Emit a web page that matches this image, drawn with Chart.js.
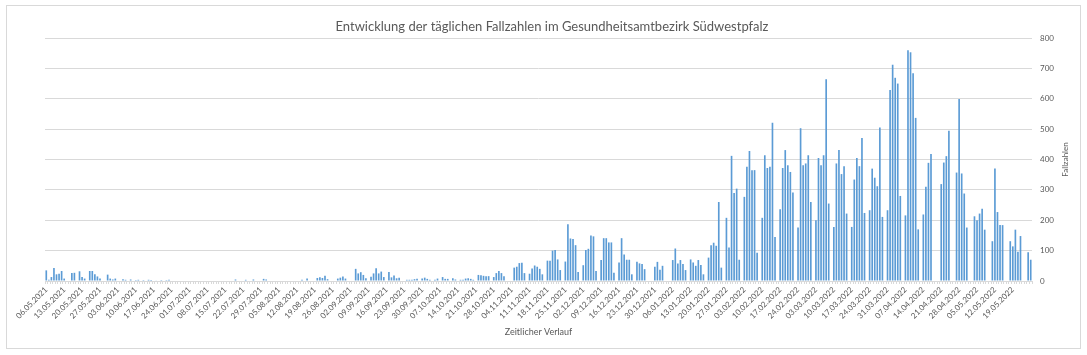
<!DOCTYPE html>
<html>
<head>
<meta charset="utf-8">
<script src="https://cdn.jsdelivr.net/npm/chart.js@4/dist/chart.umd.min.js"></script>
<style>
  html, body { margin: 0; padding: 0; background: #ffffff; }
  #wrap { position: relative; width: 1087px; height: 355px; }
  #c { position: absolute; left: 0; top: 0; }
  #frame { position: absolute; left: 6px; top: 5px; width: 1073px; height: 342px; border: 1px solid #D9D9D9; pointer-events: none; }
</style>
</head>
<body>
<div id="wrap">
  <canvas id="c" width="1087" height="355"></canvas>
  <div id="frame"></div>
</div>
<script>
const chartTitle = 'Entwicklung der täglichen Fallzahlen im Gesundheitsamtbezirk Südwestpfalz';
const xAxisTitle = 'Zeitlicher Verlauf';
const yAxisTitle = 'Fallzahlen';
const startDate = '2021-05-06';
const dayCount = 386;

const tickLabels = [
  '06.05.2021','13.05.2021','20.05.2021','27.05.2021','03.06.2021','10.06.2021','17.06.2021','24.06.2021',
  '01.07.2021','08.07.2021','15.07.2021','22.07.2021','29.07.2021','05.08.2021','12.08.2021','19.08.2021',
  '26.08.2021','02.09.2021','09.09.2021','16.09.2021','23.09.2021','30.09.2021','07.10.2021','14.10.2021',
  '21.10.2021','28.10.2021','04.11.2021','11.11.2021','18.11.2021','25.11.2021','02.12.2021','09.12.2021',
  '16.12.2021','23.12.2021','30.12.2021','06.01.2022','13.01.2022','20.01.2022','27.01.2022','03.02.2022',
  '10.02.2022','17.02.2022','24.02.2022','03.03.2022','10.03.2022','17.03.2022','24.03.2022','31.03.2022',
  '07.04.2022','14.04.2022','21.04.2022','28.04.2022','05.05.2022','12.05.2022','19.05.2022'
];

// daily case numbers (one row per week)
const cases2021 = [
  35,4,13,43,22,24,33,
  8,0,0,26,27,0,32,
  13,8,0,33,33,22,15,
  8,0,0,21,8,5,8,
  0,0,6,4,0,5,0,
  3,4,0,3,0,4,3,
  0,2,0,3,0,3,4,
  0,0,0,0,0,0,0,
  0,0,0,0,0,0,0,
  0,0,0,0,0,0,0,
  0,0,0,0,5,0,0,
  0,4,0,0,5,0,0,
  0,7,5,0,0,0,0,
  0,0,0,0,0,0,0,
  0,0,4,0,8,0,0,
  0,10,12,10,17,6,0,
  0,0,8,11,15,8,0,
  0,0,40,25,29,20,9,
  0,14,25,42,25,31,13,
  0,30,12,18,9,11,0,
  0,4,4,4,6,7,0,
  8,11,7,4,0,4,8,
  0,13,7,7,0,9,5,
  0,4,4,8,9,7,4,
  0,20,19,17,16,16,0,
  13,26,33,26,16,0,0,
  0,44,47,59,60,26,0,
  24,41,51,47,40,22,0,
  67,67,100,102,71,36,0,
  64,187,140,138,118,30,0,
  52,102,106,150,147,33,0,
  69,141,141,127,127,27,0,
  61,141,87,70,70,22,0,
  63,58,56,39,0,0,0
];
const cases2022 = [
  47,63,37,50,0,0,0,
  69,107,58,69,56,36,0,
  71,61,50,69,53,22,0,
  77,118,126,116,260,44,0,
  208,110,412,290,304,70,0,
  277,376,428,365,365,93,0,
  208,414,372,376,521,145,0,
  236,372,431,381,359,291,0,
  176,503,381,387,414,260,0,
  200,405,381,414,664,255,0,
  178,387,431,352,378,222,0,
  178,334,405,378,471,224,0,
  233,370,340,312,505,211,0,
  233,629,712,669,650,280,0,
  216,760,753,684,537,170,0,
  219,310,389,418,0,0,0,
  319,390,411,495,0,0,357,
  599,354,288,176,0,0,213,
  200,222,238,169,0,0,131,
  370,227,184,184,0,0,131,
  114,169,96,148,0,0,95,
  70
];
const dailyCases = cases2021.concat(cases2022);

const yTicks = { min: 0, max: 800, step: 100 };

// daily category labels
const categories = [];
{
  const d0 = new Date(startDate + 'T00:00:00Z');
  for (let i = 0; i < dayCount; i++) {
    const d = new Date(d0.getTime() + i * 86400000);
    const dd = String(d.getUTCDate()).padStart(2, '0');
    const mm = String(d.getUTCMonth() + 1).padStart(2, '0');
    categories.push(dd + '.' + mm + '.' + d.getUTCFullYear());
  }
}

const FONT = 'Lato, "Liberation Sans", sans-serif';
const TEXT = '#595959';

const titlesPlugin = {
  id: 'titles',
  afterDraw(chart) {
    const ctx = chart.ctx;
    ctx.save();
    ctx.fillStyle = TEXT;
    ctx.font = '13px ' + FONT;
    ctx.textAlign = 'center';
    ctx.textBaseline = 'middle';
    ctx.fillText(chartTitle, 552, 27);
    ctx.translate(1065, (chart.chartArea.top + chart.chartArea.bottom) / 2);
    ctx.rotate(-Math.PI / 2);
    ctx.font = '8px ' + FONT;
    ctx.fillText(yAxisTitle, 0, 0);
    ctx.restore();
  }
};

new Chart(document.getElementById('c'), {
  type: 'bar',
  data: {
    labels: categories,
    datasets: [{
      data: dailyCases,
      backgroundColor: '#5B9BD5',
      borderWidth: 0,
      barPercentage: 0.65,
      categoryPercentage: 1.0
    }]
  },
  options: {
    responsive: false,
    animation: false,
    devicePixelRatio: 1,
    layout: { padding: { left: 45, right: 0, top: 38, bottom: 0 } },
    plugins: { legend: { display: false }, tooltip: { enabled: false }, title: { display: false } },
    scales: {
      x: {
        type: 'category',
        offset: true,
        grid: { display: true, drawOnChartArea: false, drawTicks: true, tickLength: 3, color: '#D9D9D9' },
        border: { display: true, color: '#D9D9D9' },
        ticks: {
          autoSkip: false,
          minRotation: 45,
          maxRotation: 45,
          padding: 1,
          color: TEXT,
          font: { family: FONT, size: 8 },
          callback: function(value, index) {
            return (index % 7 === 0 && tickLabels[index / 7]) ? tickLabels[index / 7] : '';
          }
        },
        title: { display: true, text: xAxisTitle, color: TEXT, font: { family: FONT, size: 9 }, padding: { top: 0, bottom: 18 } },
        afterFit: function(s) { s.height = 74; }
      },
      y: {
        position: 'right',
        min: yTicks.min,
        max: yTicks.max,
        grid: { color: '#D9D9D9', drawTicks: false },
        border: { display: false },
        ticks: { stepSize: yTicks.step, padding: 8, color: TEXT, font: { family: FONT, size: 8 } },
        afterFit: function(s) { s.width = 55; }
      }
    }
  },
  plugins: [titlesPlugin]
});
</script>
</body>
</html>
